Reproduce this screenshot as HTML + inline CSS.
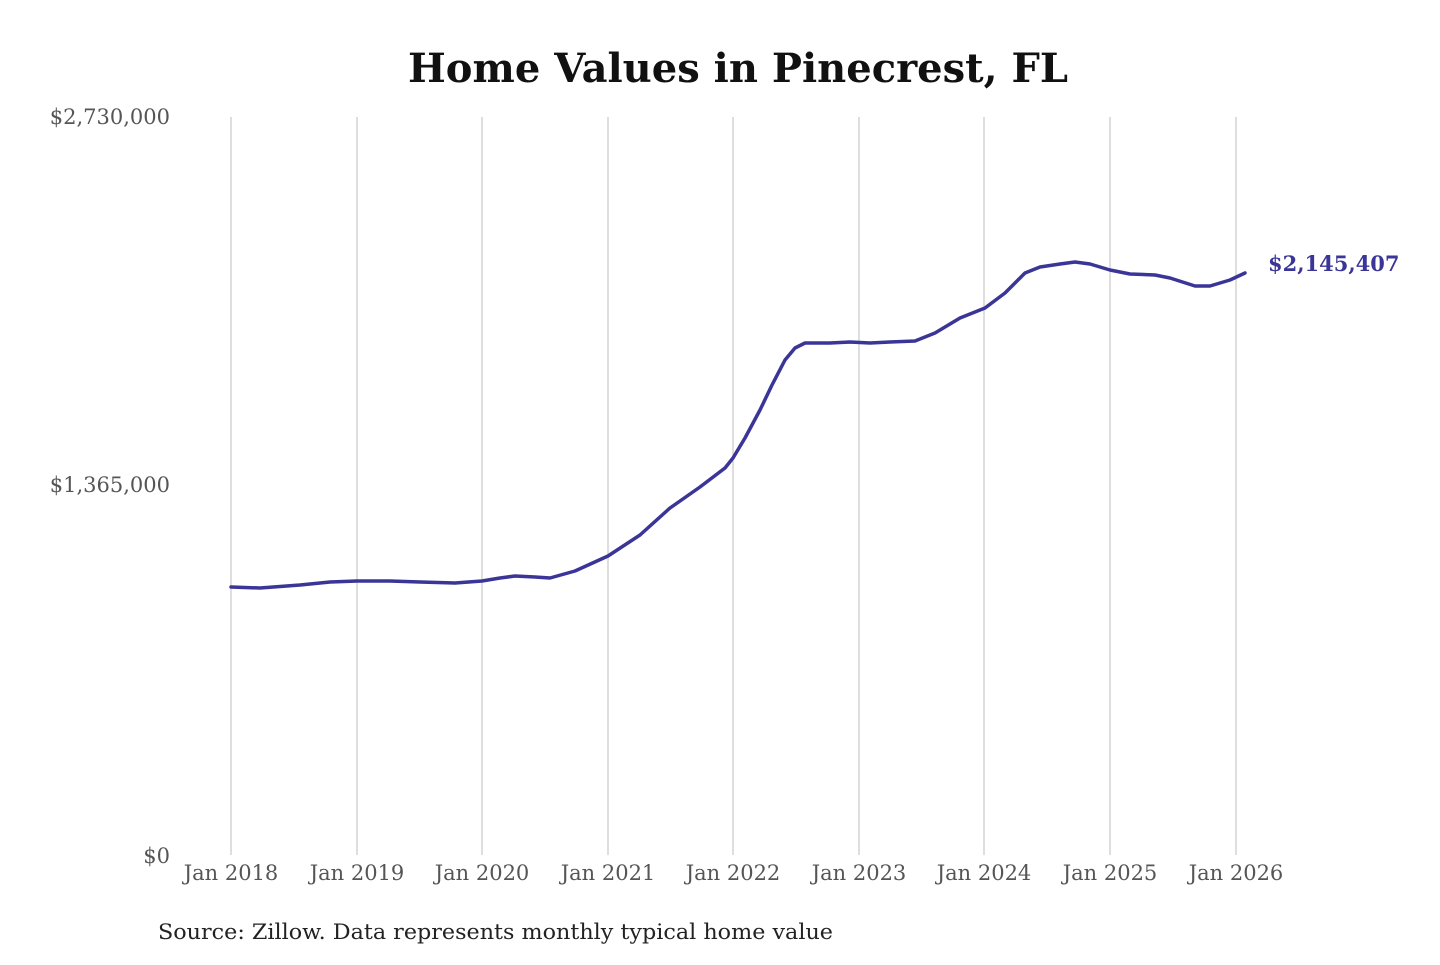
<!DOCTYPE html>
<html><head><meta charset="utf-8"><style>
html,body{margin:0;padding:0;background:#fff;}
</style></head><body>
<svg width="1440" height="960" xmlns="http://www.w3.org/2000/svg">
<rect width="1440" height="960" fill="#fff"/>
<text x="408" y="82" textLength="660" lengthAdjust="spacingAndGlyphs" font-family="DejaVu Serif, serif" font-weight="bold" font-size="40" fill="#111">Home Values in Pinecrest, FL</text>
<g font-family="DejaVu Serif, serif" font-size="21" fill="#555" text-anchor="end">
<text x="170" y="124">$2,730,000</text>
<text x="170" y="492">$1,365,000</text>
<text x="170" y="863">$0</text>
</g>
<g stroke="#c8c8c8" stroke-width="1.2">
<line x1="231" y1="117" x2="231" y2="855"/><line x1="357" y1="117" x2="357" y2="855"/>
<line x1="482" y1="117" x2="482" y2="855"/><line x1="608" y1="117" x2="608" y2="855"/>
<line x1="733" y1="117" x2="733" y2="855"/><line x1="859" y1="117" x2="859" y2="855"/>
<line x1="984" y1="117" x2="984" y2="855"/><line x1="1110" y1="117" x2="1110" y2="855"/>
<line x1="1236" y1="117" x2="1236" y2="855"/>
</g>
<g font-family="DejaVu Serif, serif" font-size="21" fill="#555" text-anchor="middle">
<text x="231" y="880">Jan 2018</text><text x="357" y="880">Jan 2019</text>
<text x="482" y="880">Jan 2020</text><text x="608" y="880">Jan 2021</text>
<text x="733" y="880">Jan 2022</text><text x="859" y="880">Jan 2023</text>
<text x="984" y="880">Jan 2024</text><text x="1110" y="880">Jan 2025</text>
<text x="1236" y="880">Jan 2026</text>
</g>
<polyline fill="none" stroke="#3a3597" stroke-width="3.5" stroke-linejoin="round" stroke-linecap="round"
points="231,587 260,588 300,585 330,582 357,581 390,581 420,582 455,583 482,581 500,578 515,576 535,577 550,578 575,571 608,556 640,535 670,508 700,487 725,468 733,458 745,438 760,410 772,385 785,360 795,348 805,343 830,343 850,342 870,343 890,342 915,341 935,333 960,318 985,308 1005,293 1025,273 1040,267 1060,264 1075,262 1090,264 1110,270 1130,274 1155,275 1170,278 1195,286 1210,286 1230,280 1245,273"/>
<text x="1268" y="271" font-family="DejaVu Serif, serif" font-weight="bold" font-size="21" fill="#3a3597">$2,145,407</text>
<text x="158" y="939" textLength="675" lengthAdjust="spacingAndGlyphs" font-family="DejaVu Serif, serif" font-size="21" fill="#222">Source: Zillow. Data represents monthly typical home value</text>
</svg>
</body></html>
